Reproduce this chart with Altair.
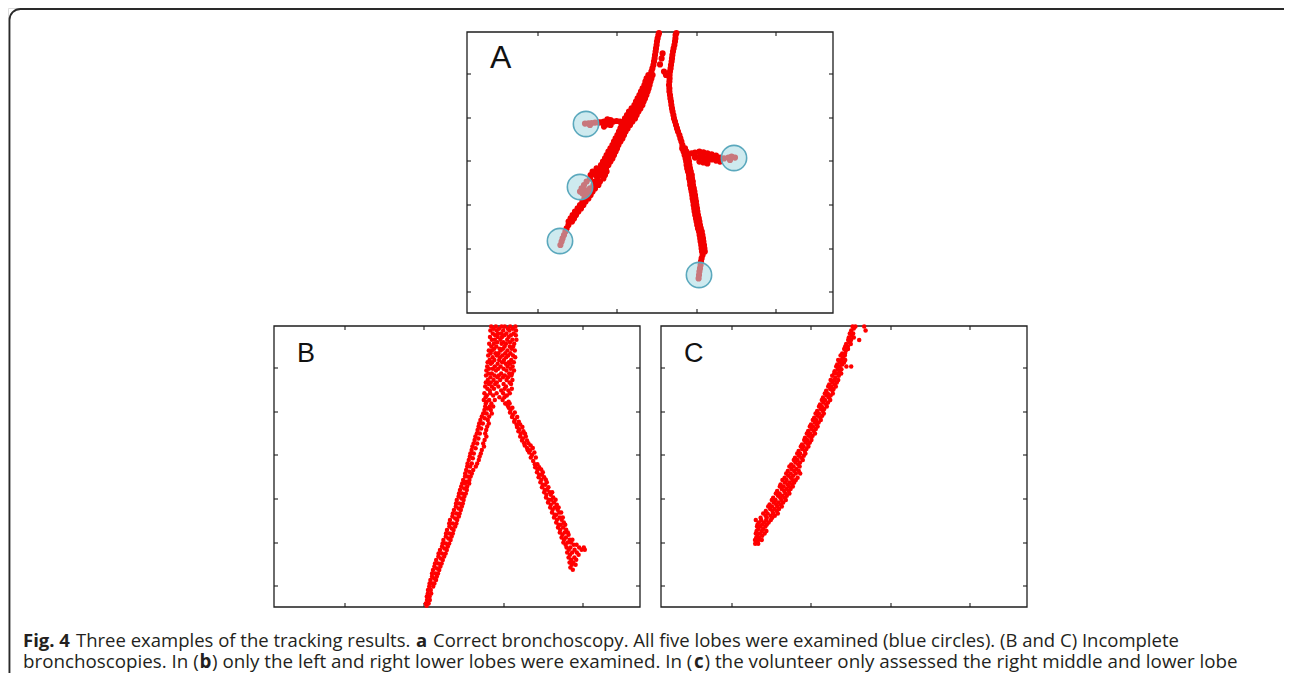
import altair as alt
import pandas as pd

# ---------------- axes (data units) ----------------
X_DOMAIN = [0, 183]
Y_DOMAIN = [0, 140.5]
X_TICKS = [35.5, 75, 115, 154.5]
Y_TICKS = [10.5, 32, 54, 76, 97.5, 119.5]

# ---------------- panel A : correct bronchoscopy ----------------
# rows of (y, [x, ...])
A_LEFT_TOP = [
    (140, [96.0]), (139, [95.7]), (137.3, [95.3]), (135.7, [95.0]), (134, [94.8]),
    (132.3, [94.5]), (130.7, [94.3]), (129.8, [97.8]), (129, [94.0]), (127.3, [93.8, 97.3]),
    (125.7, [93.5]), (124.3, [96.5]), (124, [93.2]), (122.3, [92.7]), (120.7, [92.2, 98.5]),
    (119, [99.5]),
]
A_LEFT_BAND = [
    (119, [90.7, 92.8]), (117.3, [89.8, 92.2]), (115.7, [89.2, 91.7]), (114, [88.7, 91.3]),
    (112.3, [87.8, 89.8, 90.8]), (110.7, [87, 88.8, 90.3]), (109, [86.2, 88, 89.7]),
    (107.3, [85.3, 87.2, 89]), (105.7, [84.5, 86.3, 88.3]), (104, [83.7, 85.7, 87.7]),
    (102.3, [82.3, 84.5, 86.7]), (100.7, [81, 83.3, 85.7]), (99, [80, 82.3, 84.8]),
    (97.3, [79, 81.5, 84]), (95.7, [78.2, 80.3, 82.7]), (94, [77.3, 79.3, 81.5]),
    (92.3, [76.7, 78.5, 80.3]), (90.7, [76, 77.7, 79.3]), (89, [75.2, 76.8, 78.5]),
    (87.3, [74.3, 76, 77.7]), (85.7, [73.5, 75.2, 76.7]), (84, [72.7, 74.2, 75.7]),
    (82.3, [71.7, 73.3, 75]), (80.7, [70.7, 72.5, 74.3]), (79, [69.8, 71.7, 73.5]),
    (77.3, [69, 70.8, 72.7]), (75.7, [68, 69.8, 71.7]), (74, [67, 68.8, 70.7]),
    (72.3, [64.8, 67.2, 69.5]), (70.7, [62.8, 65.2, 67.5, 69.8]), (69, [61.8, 64.2, 66.5, 69]),
    (67.3, [61.5, 65.2, 68.2]), (65.7, [59.8, 64, 66.5]), (64, [58.5, 63.2, 65.7]),
    (62.3, [57.3, 61.5, 64]), (61.5, [59]), (60.7, [56.5, 60.7, 62.8]), (59.8, [57.8]),
    (59, [59.8, 61.8]), (57.3, [58.7, 60.7]), (55.7, [57.7, 59.3]), (54, [56.5, 58.2]),
    (52.3, [55.3, 57]), (50.7, [54, 55.7]), (49, [52.8, 54.5]), (47.3, [51.8, 53.5]),
    (45.7, [50.8, 52.5]), (44, [50.7]), (42.3, [49.8]), (40.7, [49.2]), (39, [48.5]),
    (37.3, [47.8]), (35.7, [47.3]), (34, [46.7]),
]
A_UPPER_LOBE = [
    (96.8, [70.2]), (96.5, [71.8]), (96, [74.8]), (95.7, [76.5, 73.2, 68.5]),
    (95.3, [67, 65.7]), (95.2, [64]), (95, [62.3]), (94.8, [60.7]), (94.7, [59]),
    (94.3, [70.2]), (94, [71.8, 61.5]), (93.2, [68.5]),
]
A_RIGHT = [
    (140, [104.7]), (139, [104.3]), (137.3, [104.2]), (135.7, [104]), (134, [103.7]),
    (132.3, [103.3]), (130.7, [103]), (129, [102.7]), (127.3, [102.5]), (125.7, [102.3]),
    (124, [102]), (122.3, [101.8]), (120.7, [101.5]), (119, [101.3]), (117.3, [101.3]),
    (115.7, [101.2]), (114, [101]), (112.3, [101.2]), (110.7, [101.2]), (109, [101.5]),
    (107.3, [101.7]), (105.7, [102]), (104, [102.2]), (102.3, [102.5]), (100.7, [102.8]),
    (99, [103.2]), (97.3, [103.5]), (95.7, [104]), (94, [104.5]), (92.3, [105]),
    (90.7, [105.5]), (89, [106.2]), (87.3, [106.7]), (85.7, [107.2]), (84, [107.7]),
    (82.3, [107.6, 109]), (80.7, [108.3, 109.7]), (79, [108.8, 110.2]), (77.3, [109.3, 110.7]),
    (75.7, [109.6, 111]), (74, [109.8, 111.2]), (72.3, [110.1, 111.5]), (70.7, [110.5, 111.9]),
    (69, [111, 112.4]), (67.3, [111.1, 112.5]), (65.7, [111.5, 112.9]), (64, [111.6, 113]),
    (62.3, [112, 113.4]), (60.7, [112.3, 113.7]), (59, [112.6, 114]), (57.3, [112.8, 114.2]),
    (55.7, [113.1, 114.5]), (54, [113.3, 114.7]), (52.3, [113.6, 115]), (50.7, [113.8, 115.2]),
    (49, [114.1, 115.5]), (47.3, [114.5, 115.9]), (45.7, [114.8, 116.2]), (44, [115.1, 116.5]),
    (42.3, [115.5, 116.9]), (40.7, [116, 117.4]), (39, [116.3, 117.7]), (37.3, [116.6, 118]),
    (35.7, [116.8, 118.2]), (34, [117.1, 118.5]), (32.3, [117.3, 118.7]), (30.7, [117.5, 118.9]),
    (29, [117.8]), (27.3, [117.3]), (25.7, [117]), (24, [116.8]), (22.3, [116.5]),
    (20.7, [116.2]), (19, [116]), (17.3, [115.8]),
]
A_RIGHT_LOBE = [
    (80.7, [116.2]), (80.3, [118.2]), (80.2, [114]), (79.8, [112.3, 120.2]), (79.3, [122.3]),
    (78.7, [124.5]), (78.2, [116.2, 132.3]), (77.7, [114, 118.2, 126.5, 130.7, 134]),
    (77.3, [120.2, 128.5]), (76.8, [122.3]), (76.5, [131.5]), (76.2, [124.5]),
    (75.7, [116.2, 126.5]), (75.3, [118.2]), (74.8, [120.2]),
]
# the five lobes (blue circles)
LOBE_X = [59.5, 133.5, 56.5, 46.5, 116]
LOBE_Y = [94.5, 77.5, 63, 36, 19]

# ---------------- panel B : left and right lower lobes only ----------------
B_TOP = [
    (140.2, [108.6, 110.9, 113.8, 115.4, 118.1, 120.7]), (139.1, [109.7, 112.5, 116.9, 119.4]),
    (138.2, [108.2, 111.3, 114.6, 117.7, 121.0]), (136.8, [109.4, 112.0, 113.6, 116.2, 119.8]),
    (135.9, [110.6, 115.1, 118.4, 120.9]), (135.0, [108.0, 111.9, 114.0, 117.3]),
    (133.6, [108.9, 110.4, 113.2, 116.6, 119.2, 121.2]), (132.4, [111.6, 114.7, 118.0]),
    (131.6, [107.6, 109.9, 113.8, 116.0, 120.1]), (130.2, [108.7, 111.2, 115.3, 117.9, 119.6]),
    (129.1, [110.1, 112.8, 114.5, 118.8]), (128.3, [107.4, 109.0, 113.4, 116.7, 120.4]),
    (126.9, [108.3, 110.7, 112.2, 115.6, 118.2]), (125.8, [107.1, 111.4, 114.2, 117.1, 119.5]),
    (124.9, [109.3, 113.0, 116.1, 120.6]), (123.5, [107.8, 110.2, 112.6, 115.0, 118.6]),
    (122.4, [106.8, 109.1, 114.1, 117.4, 119.9]), (121.6, [108.4, 111.8, 115.9, 118.0]),
    (120.2, [106.6, 110.4, 113.3, 116.8, 119.3]), (119.1, [107.5, 109.4, 112.1, 114.8, 118.3]),
    (118.2, [106.2, 111.0, 116.2, 120.0]), (116.8, [107.2, 108.9, 113.6, 117.6, 119.0]),
    (115.7, [106.0, 110.3, 112.4, 115.4, 118.7]), (114.9, [108.2, 111.7, 114.5, 117.0]),
    (113.5, [106.9, 109.8, 113.1, 116.3, 119.2]), (112.3, [105.9, 108.4, 111.4, 117.8]),
    (111.5, [107.4, 110.6, 114.8, 118.5]), (110.2, [105.6, 108.9, 112.2, 116.0]),
    (109.1, [106.7, 110.0, 115.3, 118.9]), (108.3, [107.9, 113.6, 117.2]),
    (106.9, [105.2, 108.1, 111.3, 114.6, 117.9]), (105.8, [106.4, 109.6, 116.4]),
    (104.9, [105.8, 112.7, 115.2]), (103.5, [104.9, 107.6, 110.4, 114.3]),
    (102.6, [106.3, 117.3]), (101.8, [105.9, 108.7, 115.6]),
]
B_LEFT = [
    (100.2, [105.6, 107.9, 109.6]), (99.3, [106.8]), (98.5, [105.2, 108.4]),
    (96.8, [104.6, 106.3, 108.9]), (95.2, [103.9, 107.6]), (94.4, [105.4]), (93.5, [103.2, 106.9]),
    (91.8, [102.6, 104.4, 107.4]), (90.2, [102.3, 106.6]), (89.3, [103.6]), (88.5, [101.8, 106.1]),
    (86.8, [101.4, 102.9, 105.6]), (85.2, [100.7, 106.2]), (84.3, [102.2]), (83.5, [100.3, 105.3]),
    (81.8, [99.8, 101.6, 104.6]), (80.2, [99.2, 105]), (79.4, [100.8]), (78.5, [98.8, 103.9]),
    (76.8, [98.2, 99.9, 103.4]), (75.2, [97.9, 102.8]), (74.4, [99.4]), (73.5, [97.4, 102.4]),
    (71.8, [96.8, 98.9, 101.6]), (70.2, [96.6, 98.1, 100.9]), (68.5, [96.1, 99.6]), (67.6, [97.6]),
    (66.8, [95.6, 98.9]), (65.2, [95.5, 96.9, 98.3]), (63.5, [94.6, 97.7]), (62.6, [96.2]),
    (61.8, [94.1, 95.5, 97.6]), (60.2, [93.6, 96.6]), (59.3, [95.1]), (58.5, [93.0, 96.4]),
    (56.8, [92.5, 94.1, 95.9]), (55.2, [92.3, 95.2]), (54.3, [93.7]), (53.5, [91.4, 94.8]),
    (51.8, [91.0, 92.6, 94.4]), (50.2, [90.9, 93.9]), (49.3, [92.3]), (48.5, [90.0, 93.4]),
    (46.8, [89.4, 91.2, 92.8]), (45.2, [89.2, 92.4]), (44.3, [90.6]), (43.5, [88.0, 91.6]),
    (41.8, [87.6, 89.4, 91.2]), (40.2, [87.7, 90.6]), (39.3, [88.9]), (38.5, [86.5, 89.8]),
    (36.8, [86.0, 87.7, 89.4]), (35.2, [85.9, 88.8]), (34.3, [87.2]), (33.5, [84.7, 88.3]),
    (31.8, [84.3, 85.9, 87.6]), (30.2, [84.0, 86.9]), (29.3, [85.2]), (28.5, [83.0, 86.4]),
    (26.8, [82.3, 84.0, 85.8]), (25.2, [82.2, 85.1]), (24.3, [83.4]), (23.5, [81.1, 84.4]),
    (21.8, [80.5, 82.2, 83.8]), (20.2, [80.2, 83.2]), (19.3, [81.5]), (18.5, [79.5, 82.6]),
    (16.8, [79.0, 80.7, 82.0]), (15.2, [79.0, 81.4]), (14.3, [80.1]), (13.5, [78.2, 81.0]),
    (11.8, [77.8, 79.3, 80.2]), (10.2, [77.6, 79.6]), (8.5, [77.0, 78.4]), (6.8, [76.9, 78.6]),
    (5.2, [76.4, 77.8]), (3.5, [76.5, 77.9]), (1.8, [75.9, 77.3]), (0.6, [76.3]),
]
B_RIGHT = [
    (101.8, [116.2, 117.8]), (100.6, [116.9]), (99.6, [117.4, 119.2]), (98.5, [118.3]),
    (97.2, [118.0, 120.4]), (96.0, [119.4]), (95.0, [119.0, 121.6]), (93.6, [120.4]),
    (92.6, [120.1, 122.4]), (91.3, [121.3, 123.1]), (90.0, [121.5, 124.2]), (88.9, [122.6]),
    (87.9, [122.2, 124.7]), (86.6, [123.4, 125.5]), (85.3, [123.1, 125.9]), (84.2, [124.4]),
    (83.3, [124.0, 126.5]), (81.9, [125.1, 127.2]), (80.7, [125.4, 128.3]), (79.5, [126.5, 129.4]),
    (78.4, [126.9, 128.0]), (77.2, [127.6, 130.2]), (76.0, [129.0]), (74.8, [128.4, 130.9]),
    (73.0, [129.6]), (71.4, [130.4, 131.7]), (69.9, [130.6, 132.6]), (68.7, [131.8, 133.6]),
    (67.4, [131.5, 134.4]), (66.1, [132.6, 134.0]), (64.9, [132.3, 135.1]), (63.6, [133.7, 135.9]),
    (62.4, [133.2, 136.4]), (61.1, [134.4, 135.6]), (59.9, [134.0, 137.2]), (58.6, [135.4, 136.6]),
    (57.4, [135.1, 137.9, 139.1]), (56.1, [136.2, 138.4]), (54.8, [136.0, 139.6]),
    (53.6, [137.3, 138.6, 140.8]), (52.3, [137.0, 139.9]), (51.1, [138.4, 141.4]),
    (49.8, [138.1, 140.4, 142.3]), (48.6, [139.3, 141.8]), (47.3, [139.0, 142.7, 143.6]),
    (46.1, [140.3, 141.2]), (44.8, [140.0, 142.9, 144.4]), (43.6, [141.5, 143.8]),
    (42.3, [141.1, 144.9]), (41.1, [142.3, 143.4, 145.6]), (39.8, [142.0, 144.6]),
    (38.6, [143.1, 146.1]), (37.3, [142.9, 145.3, 146.9]), (36.1, [144.2, 147.3]),
    (34.8, [143.8, 146.0]), (33.6, [145.0, 147.9, 149.2]), (32.3, [144.7, 146.8, 148.4]),
    (31.1, [145.8, 149.8, 151.3]), (29.8, [146.3, 148.2, 152.6, 154.9]),
    (28.6, [147.4, 150.3, 153.8, 155.4]), (27.3, [146.6, 149.1, 151.4]), (26.1, [148.0, 152.3]),
    (24.8, [147.3, 150.2]), (23.6, [148.6, 151.1]), (22.3, [147.8, 149.6]), (21.1, [148.9, 150.8]),
    (19.8, [148.2]), (18.6, [149.4]),
]

# ---------------- panel C : right middle and lower lobe only ----------------
C_TRACK = [
    (140.2, [95.8, 97.2, 101.6]), (139.2, [96.4]), (138.3, [95.1, 102.3]), (136.8, [94.4, 96.1]),
    (135.6, [95.3]), (134.7, [93.9, 96.4]), (133.5, [93.6, 95.0, 99.1]), (132.3, [94.3]),
    (131.5, [92.6, 94.9]), (130.2, [92.1, 93.4]), (129.0, [91.6, 93.5]), (128.1, [92.4]),
    (126.8, [90.6, 92.0]), (125.7, [89.8, 91.9]), (124.6, [90.9]), (123.5, [88.6, 90.2, 92.1]),
    (122.3, [89.4, 91.5]), (121.3, [88.1, 90.6]), (120.2, [87.6, 89.3, 92.7, 95.1]),
    (118.9, [88.4, 90.2]), (117.9, [86.8, 89.3]), (116.8, [86.6, 87.9, 90.1]), (115.6, [85.6, 88.9]),
    (114.6, [87.2]), (113.5, [84.8, 86.5, 88.6]), (112.3, [85.7, 87.9]), (111.3, [84.1, 86.9]),
    (110.2, [83.6, 85.1, 87.4]), (109.0, [84.6, 86.3]), (108.1, [82.6, 85.7]),
    (106.8, [81.9, 83.4, 85.9]), (105.7, [82.8, 84.8]), (104.7, [81.0, 83.9]),
    (103.5, [80.4, 82.0, 84.6]), (102.3, [81.2, 83.5]), (101.3, [79.5, 82.6]),
    (100.2, [79.0, 80.4, 82.9]), (99.0, [79.9, 81.6]), (98.0, [78.1, 80.9]),
    (96.8, [77.3, 79.0, 81.4]), (95.6, [78.3, 80.6]), (94.6, [76.6, 79.6]),
    (93.5, [75.9, 77.6, 79.9]), (92.3, [76.9, 78.8]), (91.3, [75.0, 77.9]),
    (90.2, [74.4, 76.0, 78.3]), (89.0, [75.3, 77.4]), (88.0, [73.6, 76.4]),
    (86.8, [72.9, 74.6, 77.0]), (85.6, [73.8, 75.8]), (84.6, [72.0, 75.1]),
    (83.5, [71.6, 73.1, 75.2]), (82.3, [72.3, 74.4]), (81.3, [70.5, 73.6]),
    (80.2, [69.9, 71.3, 73.7]), (79.0, [70.6, 72.7]), (78.0, [68.8, 71.9]),
    (76.8, [68.1, 69.6, 72.2]), (75.6, [68.9, 71.4]), (74.6, [67.0, 70.1]),
    (73.5, [66.4, 68.2, 70.9]), (72.3, [67.2, 69.5]), (71.3, [65.1, 68.6]),
    (70.2, [64.2, 66.3, 69.3]), (69.0, [65.2, 67.7]), (68.0, [63.4, 66.6, 68.9]),
    (66.8, [62.6, 64.8, 67.4, 69.6]), (65.6, [63.6, 66.1]), (64.6, [61.8, 64.9, 68.3]),
    (63.5, [60.7, 62.8, 65.7, 67.4]), (62.3, [61.9, 64.3, 66.6]), (61.3, [59.8, 63.3, 65.6]),
    (60.2, [59.4, 61.3, 63.9, 65.9]), (59.0, [60.4, 62.7, 64.8]), (58.0, [58.1, 61.6, 63.9]),
    (56.8, [57.4, 59.3, 62.2, 64.2]), (55.6, [58.5, 60.6, 62.9]), (54.6, [56.1, 59.6, 61.9]),
    (53.5, [55.4, 57.3, 60.2, 62.4]), (52.3, [56.4, 58.7, 61.1]), (51.3, [54.3, 57.6, 59.9]),
    (50.2, [53.6, 55.5, 58.2, 60.4]), (49.0, [54.6, 56.8, 59.0]), (48.0, [52.4, 55.7, 57.9]),
    (46.8, [51.1, 53.3, 56.1, 58.4]), (45.6, [52.3, 54.8, 56.9]), (44.6, [49.8, 52.9, 55.6]),
    (43.5, [47.4, 50.1, 52.6, 54.9]), (42.3, [48.9, 51.4, 53.8]), (41.3, [48.3, 50.6, 52.9]),
    (40.2, [48.0, 49.7, 52.2]), (39.0, [48.7, 51.1]), (38.0, [47.8, 50.4, 52.7]),
    (36.8, [47.4, 49.4, 51.8]), (35.6, [48.2, 50.6]), (34.6, [47.6, 49.1]),
    (33.5, [47.0, 48.7, 50.4]), (32.3, [47.8]), (31.6, [47.1, 48.6]),
]

PANEL_LABELS = ["A", "B", "C"]
CAPTION_BOLD = ["Fig. 4", "a", "b", "c"]
CAPTION_TEXT = [
    "Three examples of the tracking results.",
    "Correct bronchoscopy. All five lobes were examined (blue circles). (B and C) Incomplete",
    "bronchoscopies. In (",
    ") only the left and right lower lobes were examined. In (",
    ") the volunteer only assessed the right middle and lower lobe",
]

# ---------------- layout (pixel ranges of each panel inside the view) ----------------
RANGES = {
    "A": ([459, 825], [305, 24]),
    "B": ([266, 632], [599, 318]),
    "C": ([653, 1019], [599, 318]),
}
TICK_LEN = 2.0


def rows_to_df(*groups):
    pts = [(x, y) for rows in groups for (y, xs) in rows for x in xs]
    return pd.DataFrame(pts, columns=["x", "y"])


def enc(panel, xf="x", yf="y"):
    xr, yr = RANGES[panel]
    return dict(
        x=alt.X(f"{xf}:Q", scale=alt.Scale(domain=X_DOMAIN, range=xr, nice=False, zero=False), axis=None),
        y=alt.Y(f"{yf}:Q", scale=alt.Scale(domain=Y_DOMAIN, range=yr, nice=False, zero=False), axis=None),
    )


def frame_layers(panel, label):
    box = pd.DataFrame({"x": [X_DOMAIN[0]], "x2": [X_DOMAIN[1]], "y": [Y_DOMAIN[0]], "y2": [Y_DOMAIN[1]]})
    frame = alt.Chart(box).mark_rect(fillOpacity=0, stroke="#1e1e1e", strokeWidth=1.3).encode(
        **enc(panel), x2="x2:Q", y2="y2:Q")
    segs = []
    for t in X_TICKS:
        segs.append((t, t, Y_DOMAIN[0], Y_DOMAIN[0] + TICK_LEN))
        segs.append((t, t, Y_DOMAIN[1], Y_DOMAIN[1] - TICK_LEN))
    for t in Y_TICKS:
        segs.append((X_DOMAIN[0], X_DOMAIN[0] + TICK_LEN, t, t))
        segs.append((X_DOMAIN[1], X_DOMAIN[1] - TICK_LEN, t, t))
    ticks = alt.Chart(pd.DataFrame(segs, columns=["x", "x2", "y", "y2"])).mark_rule(
        color="#1e1e1e", strokeWidth=1.1).encode(**enc(panel), x2="x2:Q", y2="y2:Q")
    lab_df = pd.DataFrame({"x": [11.5], "y": [122.5], "t": [label]})
    lab = alt.Chart(lab_df).mark_text(
        font="Liberation Sans", fontSize=32 if panel == "A" else 27, align="left",
        baseline="alphabetic", color="#111111").encode(**enc(panel), text="t:N")
    return [frame, ticks, lab]


layers = []

# outer rounded border of the figure
border = alt.Chart(pd.DataFrame({"k": [0]})).mark_rect(
    fillOpacity=0, stroke="#2a2a2a", strokeWidth=1.8, cornerRadius=11).encode(
    x=alt.value(1.5), y=alt.value(1), x2=alt.value(1300), y2=alt.value(720))
layers.append(border)

# panel A
layers += frame_layers("A", PANEL_LABELS[0])
a_df = rows_to_df(A_LEFT_TOP, A_LEFT_BAND, A_UPPER_LOBE, A_RIGHT, A_RIGHT_LOBE)
layers.append(alt.Chart(a_df).mark_circle(size=38, color="#f20000", opacity=1).encode(**enc("A")))
lobes = pd.DataFrame({"x": LOBE_X, "y": LOBE_Y})
layers.append(alt.Chart(lobes).mark_circle(
    size=640, fill="#a6d9e2", fillOpacity=0.55, stroke="#5aa8bd", strokeWidth=1.6,
    strokeOpacity=1, opacity=1).encode(**enc("A")))

# panel B
layers += frame_layers("B", PANEL_LABELS[1])
b_df = rows_to_df(B_TOP, B_LEFT, B_RIGHT)
layers.append(alt.Chart(b_df).mark_circle(size=20, color="#ff0000", opacity=1).encode(**enc("B")))

# panel C
layers += frame_layers("C", PANEL_LABELS[2])
c_df = rows_to_df(C_TRACK)
layers.append(alt.Chart(c_df).mark_circle(size=20, color="#ff0000", opacity=1).encode(**enc("C")))


# caption
def cap(text, px, py, bold, size=18.5):
    return alt.Chart(pd.DataFrame({"t": [text]})).mark_text(
        font="Open Sans", fontSize=size, fontWeight="bold" if bold else "normal",
        align="left", baseline="alphabetic", color="#231f20").encode(
        text="t:N", x=alt.value(px), y=alt.value(py))


L1, L2 = 639, 659.5
S2 = 18.8
layers += [
    cap(CAPTION_BOLD[0], 15, L1, True),
    cap(CAPTION_TEXT[0], 68, L1, False),
    cap(CAPTION_BOLD[1], 408, L1, True),
    cap(CAPTION_TEXT[1], 425, L1, False),
    cap(CAPTION_TEXT[2], 15, L2, False, S2),
    cap(CAPTION_BOLD[2], 191.5, L2, True, S2),
    cap(CAPTION_TEXT[3], 204, L2, False, S2),
    cap(CAPTION_BOLD[3], 686, L2, True, S2),
    cap(CAPTION_TEXT[4], 696.5, L2, False, S2),
]

chart = alt.layer(*layers).resolve_scale(x="independent", y="independent").properties(
    width=1276, height=665,
    autosize=alt.AutoSizeParams(type="none"),
    padding={"left": 0, "top": 0, "right": 0, "bottom": 0},
).configure_view(strokeWidth=0).configure(background="white")

chart.save("out.html", embed_options={"renderer": "svg", "actions": False})
